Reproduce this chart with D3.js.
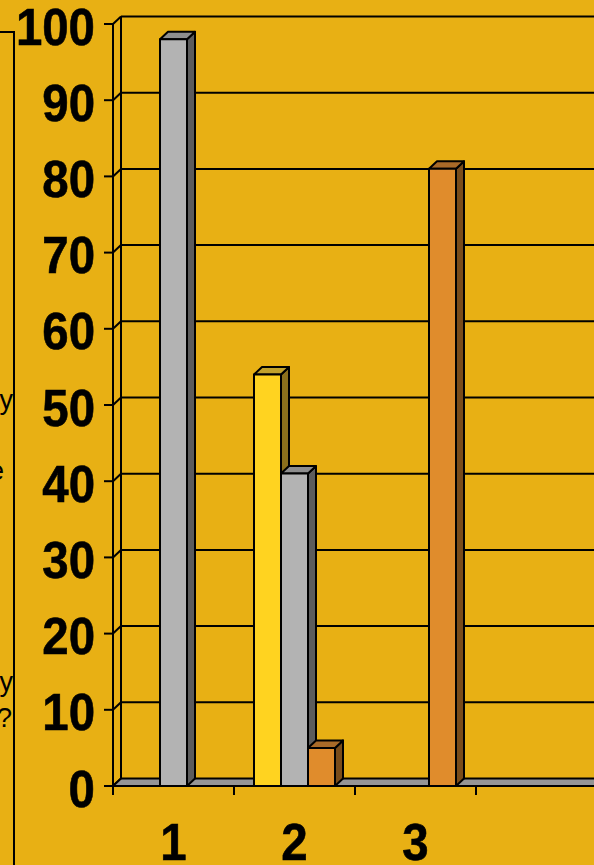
<!DOCTYPE html>
<html>
<head>
<meta charset="utf-8">
<script src="https://cdn.jsdelivr.net/npm/d3@7"></script>
<style>
  html, body { margin: 0; padding: 0; background: #E8B014; overflow: hidden; }
  svg { display: block; }
</style>
</head>
<body>
<div id="chart"></div>
<script>
// ---------------- data ----------------
const categories = ["1", "2", "3"];
const seriesNames = ["Series A", "Series B", "Series C"];
const yellowValues = [0, 54, 0];
const grayValues   = [98, 41, 0];
const orangeValues = [0, 5, 81];
const yTickValues  = [0, 10, 20, 30, 40, 50, 60, 70, 80, 90, 100];
const legendLines  = ["Every day", "Once a week", "Sometime", "Rarely", "Never", "Other", "Hardly ever", "Don't know", "Any other way", "Why not?"];

// ---------------- layout ----------------
const W = 594, H = 865;
const BG = "#E8B014";
const DX = 8, DY = -7.5;             // 3D depth offset
const plotLeft = 113, slotW = 121, slotCount = 4;
const y0 = 786, y100 = 24;
const faceColors = [
  { front: "#FFD320", top: "#C2A22C", side: "#8C701C" },
  { front: "#B3B3B3", top: "#8E8E8E", side: "#5C5C5C" },
  { front: "#E08C2C", top: "#A96A28", side: "#7A4C1A" }
];
const seriesValues = [yellowValues, grayValues, orangeValues];

const svg = d3.select("#chart").append("svg")
  .attr("width", W).attr("height", H)
  .style("font-family", "'Liberation Sans', Arial, sans-serif");

svg.append("rect").attr("width", W).attr("height", H).attr("fill", BG);

const y = d3.scaleLinear().domain([0, 100]).range([y0, y100]);
const xSlot = d3.scaleBand().domain(d3.range(slotCount)).range([plotLeft, plotLeft + slotW * slotCount]).padding(0);
const xInner = d3.scaleBand().domain(d3.range(seriesNames.length)).range([20, slotW - 20]).padding(0);

// ---------------- walls & grid ----------------
const grid = svg.append("g").attr("stroke", "#000").attr("stroke-width", 2).attr("fill", "none");
grid.selectAll("line.h").data(yTickValues.filter(v => v > 0)).join("line")
  .attr("x1", plotLeft + DX).attr("x2", W + 10)
  .attr("y1", d => y(d) + DY).attr("y2", d => y(d) + DY);
grid.selectAll("line.d").data(yTickValues).join("line")
  .attr("x1", plotLeft).attr("x2", plotLeft + DX)
  .attr("y1", d => y(d)).attr("y2", d => y(d) + DY);
grid.append("line").attr("x1", plotLeft + DX).attr("x2", plotLeft + DX)
  .attr("y1", y(100) + DY).attr("y2", y(0) + DY);

// floor
const floorRight = plotLeft + slotW * slotCount + 20;
svg.append("path")
  .attr("d", `M${plotLeft},${y0} L${plotLeft + DX},${y0 + DY} L${floorRight + DX},${y0 + DY} L${floorRight},${y0} Z`)
  .attr("fill", "#959595").attr("stroke", "none");
svg.append("line").attr("x1", plotLeft + DX).attr("x2", floorRight)
  .attr("y1", y0 + DY).attr("y2", y0 + DY).attr("stroke", "#000").attr("stroke-width", 2);
svg.append("line").attr("x1", plotLeft).attr("x2", plotLeft + DX)
  .attr("y1", y0).attr("y2", y0 + DY).attr("stroke", "#000").attr("stroke-width", 2);

// ---------------- bars ----------------
const bars = [];
categories.forEach((c, ci) => {
  seriesValues.forEach((vals, si) => {
    if (vals[ci] > 0) bars.push({ ci, si, v: vals[ci] });
  });
});
bars.sort((a, b) => (a.ci - b.ci) || (a.si - b.si));

const barG = svg.append("g").attr("stroke", "#000").attr("stroke-width", 2).attr("stroke-linejoin", "round");
bars.forEach(b => {
  const x = xSlot(b.ci) + xInner(b.si);
  const w = xInner.bandwidth();
  const yt = y(b.v);
  const col = faceColors[b.si];
  const g = barG.append("g");
  g.append("path")
    .attr("d", `M${x + w},${yt} L${x + w + DX},${yt + DY} L${x + w + DX},${y0 + DY} L${x + w},${y0} Z`)
    .attr("fill", col.side);
  g.append("path")
    .attr("d", `M${x},${yt} L${x + DX},${yt + DY} L${x + w + DX},${yt + DY} L${x + w},${yt} Z`)
    .attr("fill", col.top);
  g.append("rect").attr("x", x).attr("y", yt).attr("width", w).attr("height", y0 - yt)
    .attr("fill", col.front);
});

// ---------------- axes ----------------
const axisG = svg.append("g").attr("stroke", "#000").attr("stroke-width", 2);
axisG.append("line").attr("x1", plotLeft).attr("x2", plotLeft).attr("y1", y(100)).attr("y2", y0 + 9);
axisG.selectAll("line.yt").data(yTickValues).join("line")
  .attr("x1", plotLeft - 9).attr("x2", plotLeft).attr("y1", d => y(d)).attr("y2", d => y(d));
axisG.append("line").attr("x1", plotLeft).attr("x2", W + 10).attr("y1", y0).attr("y2", y0);
axisG.selectAll("line.xt").data(d3.range(slotCount + 1)).join("line")
  .attr("x1", d => plotLeft + d * slotW).attr("x2", d => plotLeft + d * slotW)
  .attr("y1", y0).attr("y2", y0 + 9);

svg.append("g").selectAll("text").data(yTickValues).join("text")
  .attr("transform", d => `translate(95,${y(d) + 20.5}) scale(0.93,1)`)
  .attr("text-anchor", "end").attr("font-size", 51).attr("font-weight", "bold").attr("fill", "#000")
  .attr("stroke", "#000").attr("stroke-width", 0.6)
  .text(d => d);

svg.append("g").selectAll("text").data(categories).join("text")
  .attr("transform", (d, i) => `translate(${xSlot(i) + slotW / 2},${y0 + 74}) scale(0.93,1)`)
  .attr("text-anchor", "middle").attr("font-size", 51).attr("font-weight", "bold").attr("fill", "#000")
  .attr("stroke", "#000").attr("stroke-width", 0.6)
  .text(d => d);

// ---------------- legend (cut off at left) ----------------
svg.append("path").attr("d", `M-10,32 L14,32 L14,${H + 10}`)
  .attr("fill", "none").attr("stroke", "#000").attr("stroke-width", 2);
const legendEnds = [13, -40, 4, -30, -60, -50, -20, -45, 13, 12];
svg.append("g").selectAll("text").data(legendLines).join("text")
  .attr("x", (d, i) => legendEnds[i]).attr("y", (d, i) => 409 + i * 35.3)
  .attr("text-anchor", "end").attr("font-size", 27).attr("fill", "#000")
  .text(d => d);
</script>
</body>
</html>
